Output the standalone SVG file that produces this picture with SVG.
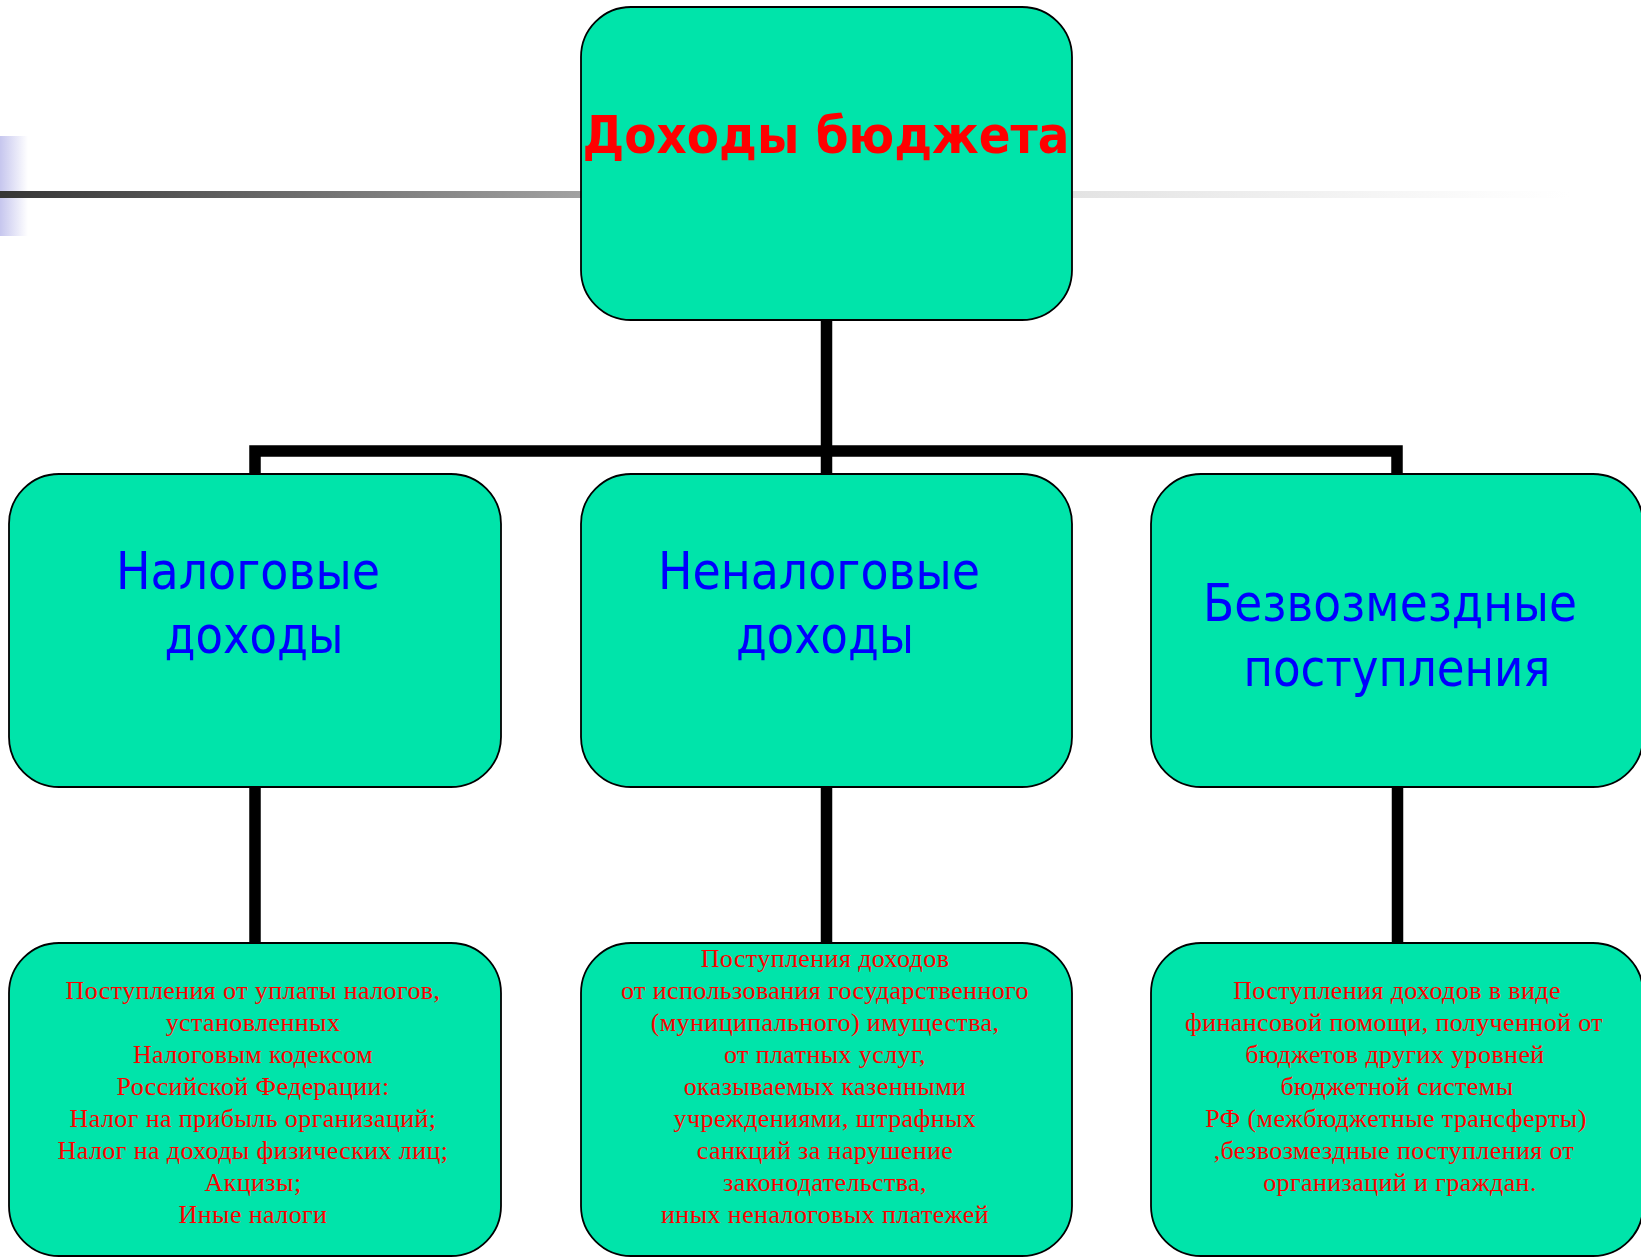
<svg xmlns="http://www.w3.org/2000/svg" width="1641" height="1257" viewBox="0 0 1641 1257">
<defs>
<linearGradient id="gline" x1="0" y1="0" x2="1570" y2="0" gradientUnits="userSpaceOnUse">
<stop offset="0" stop-color="#353535"/>
<stop offset="0.37" stop-color="#a2a2a2"/>
<stop offset="0.683" stop-color="#e3e3e3"/>
<stop offset="0.95" stop-color="#fcfcfc"/>
<stop offset="1" stop-color="#ffffff"/>
</linearGradient>
<linearGradient id="glav" x1="0" y1="0" x2="1" y2="0">
<stop offset="0" stop-color="#c6c6ee"/>
<stop offset="1" stop-color="#ffffff"/>
</linearGradient>
<style>
.box{fill:#00e4aa;stroke:#000;stroke-width:1.8}
.conn{fill:none;stroke:#000;stroke-width:11.5;stroke-linejoin:miter}
.title{font-family:"DejaVu Sans",Verdana,sans-serif;font-weight:bold;fill:#ff0000;font-size:52px;text-anchor:middle}
.mid{font-family:"DejaVu Sans",Verdana,sans-serif;fill:#0000ff;font-size:52px;text-anchor:middle}
.low{font-family:"Liberation Serif","Times New Roman",serif;fill:#ff0000;font-size:26px;letter-spacing:0.4px;text-anchor:middle}
</style>
</defs>
<rect x="0" y="136" width="28" height="100" fill="url(#glav)"/>
<rect x="0" y="191" width="1570" height="7" fill="url(#gline)"/>
<g id="connectors">
<path class="conn" d="M826.5 320 V474"/>
<path class="conn" d="M255 474 V451 H1397 V474"/>
<path class="conn" d="M255 787 V943"/>
<path class="conn" d="M826.5 787 V943"/>
<path class="conn" d="M1397.5 787 V943"/>
</g>
<g id="node-root">
<rect class="box" x="581" y="7" width="491" height="313" rx="50" ry="50"/>
<text class="title" x="826" y="153" textLength="487" lengthAdjust="spacingAndGlyphs">Доходы бюджета</text>
</g>
<g id="node-tax">
<rect class="box" x="9" y="474" width="492" height="313" rx="50" ry="50"/>
<text class="mid" x="248" y="589" textLength="264" lengthAdjust="spacingAndGlyphs">Налоговые</text>
<text class="mid" x="254" y="653" textLength="179" lengthAdjust="spacingAndGlyphs">доходы</text>
</g>
<g id="node-nontax">
<rect class="box" x="581" y="474" width="491" height="313" rx="50" ry="50"/>
<text class="mid" x="819" y="589" textLength="322" lengthAdjust="spacingAndGlyphs">Неналоговые</text>
<text class="mid" x="825" y="653" textLength="178" lengthAdjust="spacingAndGlyphs">доходы</text>
</g>
<g id="node-free">
<rect class="box" x="1151" y="474" width="492" height="313" rx="50" ry="50"/>
<text class="mid" x="1390" y="621" textLength="374" lengthAdjust="spacingAndGlyphs">Безвозмездные</text>
<text class="mid" x="1397" y="686" textLength="307" lengthAdjust="spacingAndGlyphs">поступления</text>
</g>
<g id="node-tax-detail">
<rect class="box" x="9" y="943" width="492" height="313" rx="50" ry="50"/>
<text class="low" x="253" y="999">Поступления от уплаты налогов,</text>
<text class="low" x="253" y="1031">установленных</text>
<text class="low" x="253" y="1063">Налоговым кодексом</text>
<text class="low" x="253" y="1095">Российской Федерации:</text>
<text class="low" x="253" y="1127">Налог на прибыль организаций;</text>
<text class="low" x="253" y="1159">Налог на доходы физических лиц;</text>
<text class="low" x="253" y="1191">Акцизы;</text>
<text class="low" x="253" y="1223">Иные налоги</text>
</g>
<g id="node-nontax-detail">
<rect class="box" x="581" y="943" width="491" height="313" rx="50" ry="50"/>
<text class="low" x="825" y="967">Поступления доходов</text>
<text class="low" x="825" y="999">от использования государственного</text>
<text class="low" x="825" y="1031">(муниципального) имущества,</text>
<text class="low" x="825" y="1063">от платных услуг,</text>
<text class="low" x="825" y="1095">оказываемых казенными</text>
<text class="low" x="825" y="1127">учреждениями, штрафных</text>
<text class="low" x="825" y="1159">санкций за нарушение</text>
<text class="low" x="825" y="1191">законодательства,</text>
<text class="low" x="825" y="1223">иных неналоговых платежей</text>
</g>
<g id="node-free-detail">
<rect class="box" x="1151" y="943" width="492" height="313" rx="50" ry="50"/>
<text class="low" x="1397" y="999">Поступления доходов в виде</text>
<text class="low" x="1394" y="1031">финансовой помощи, полученной от</text>
<text class="low" x="1395" y="1063">бюджетов других уровней</text>
<text class="low" x="1397" y="1095">бюджетной системы</text>
<text class="low" x="1396" y="1127">РФ (межбюджетные трансферты)</text>
<text class="low" x="1394" y="1159">,безвозмездные поступления от</text>
<text class="low" x="1400" y="1191">организаций и граждан.</text>
</g>
</svg>
